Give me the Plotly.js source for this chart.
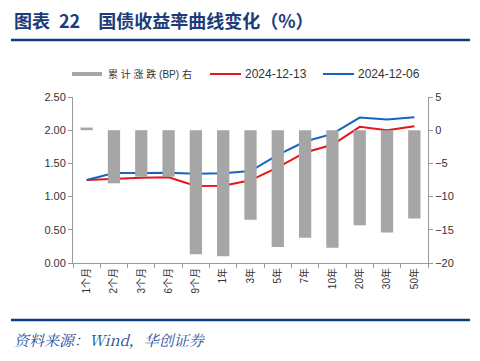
<!DOCTYPE html>
<html>
<head>
<meta charset="utf-8">
<script src="https://cdn.plot.ly/plotly-3.0.1.min.js"></script>
<style>
html,body{margin:0;padding:0;background:#fff;}
#chart{width:480px;height:361px;}
</style>
</head>
<body>
<div id="chart"></div>
<script>
const categories = ["1个月","2个月","3个月","6个月","9个月","1年","3年","5年","7年","10年","20年","30年","50年"];
const changeBP = [0.4, -8, -7, -7, -18.7, -19, -13.5, -17.6, -16.2, -17.7, -14.3, -15.4, -13.3];
const yield20241213 = [1.25, 1.27, 1.285, 1.29, 1.16, 1.165, 1.245, 1.44, 1.665, 1.78, 2.05, 2.00, 2.06];
const yield20241206 = [1.25, 1.355, 1.355, 1.36, 1.345, 1.35, 1.385, 1.63, 1.83, 1.945, 2.19, 2.16, 2.195];
const seriesNames = ["累计涨跌(BP)右", "2024-12-13", "2024-12-06"];
const legendLabels = ["累 计 涨 跌 (BP) 右", "2024-12-13", "2024-12-06"];

const W = 480, H = 361;
const mL = 73, mR = 52, mT = 97, mB = 98;
const pw = W - mL - mR, ph = H - mT - mB;
const px = x => (x - mL) / pw;
const py = y => (H - mB - y) / ph;

const fontMain = "Liberation Sans, Arial, Noto Sans CJK SC, sans-serif";
const colors = {bar: "#A6A6A6", red: "#E8141C", blue: "#1565C0"};

const traces = [
  {
    type: "bar", name: seriesNames[0], x: categories, y: changeBP, yaxis: "y2",
    marker: {color: colors.bar}, width: 0.45
  },
  {
    type: "scatter", mode: "lines", name: seriesNames[1], x: categories, y: yield20241213,
    line: {color: colors.red, width: 2}
  },
  {
    type: "scatter", mode: "lines", name: seriesNames[2], x: categories, y: yield20241206,
    line: {color: colors.blue, width: 2}
  }
];

const legY = 74;
const layout = {
  width: W, height: H,
  margin: {l: mL, r: mR, t: mT, b: mB, pad: 0},
  paper_bgcolor: "#fff", plot_bgcolor: "#fff",
  font: {family: fontMain, size: 10, color: "#333"},
  showlegend: false,
  xaxis: {
    type: "category", showline: true, linecolor: "#999", linewidth: 1,
    ticks: "outside", tickson: "boundaries", ticklen: 4, tickcolor: "#999",
    tickangle: -90, showgrid: false, zeroline: false,
    tickfont: {size: 10, color: "#333", family: fontMain}
  },
  yaxis: {
    range: [0, 2.5], dtick: 0.5, tickformat: ".2f",
    showline: true, linecolor: "#999", linewidth: 1,
    ticks: "outside", ticklen: 4, tickcolor: "#999",
    showgrid: false, zeroline: false,
    tickfont: {size: 11, color: "#333", family: fontMain}
  },
  yaxis2: {
    overlaying: "y", side: "right", range: [-20, 5], dtick: 5,
    showline: true, linecolor: "#999", linewidth: 1,
    ticks: "outside", ticklen: 4, tickcolor: "#999",
    showgrid: false, zeroline: false,
    tickfont: {size: 11, color: "#333", family: fontMain}
  },
  shapes: [
    {type: "line", xref: "paper", yref: "paper", x0: px(11), x1: px(470), y0: py(40), y1: py(40),
     line: {color: "#0E3F7E", width: 2.5}},
    {type: "line", xref: "paper", yref: "paper", x0: px(11), x1: px(470), y0: py(320), y1: py(320),
     line: {color: "#0E3F7E", width: 2.5}},
    // legend symbols
    {type: "rect", xref: "paper", yref: "paper", x0: px(72), x1: px(102), y0: py(legY - 2), y1: py(legY + 2),
     fillcolor: colors.bar, line: {width: 0}},
    {type: "line", xref: "paper", yref: "paper", x0: px(210), x1: px(241), y0: py(legY), y1: py(legY),
     line: {color: colors.red, width: 2}},
    {type: "line", xref: "paper", yref: "paper", x0: px(323), x1: px(354), y0: py(legY), y1: py(legY),
     line: {color: colors.blue, width: 2}}
  ],
  annotations: [
    {xref: "paper", yref: "paper", x: px(12), y: py(20), xanchor: "left", yanchor: "middle",
     showarrow: false, text: "<b>图表\u200222　国债收益率曲线变化（%）</b>",
     font: {family: "Noto Sans CJK SC, sans-serif", size: 18, color: "#1B3C78"}},
    {xref: "paper", yref: "paper", x: px(12), y: py(339), xanchor: "left", yanchor: "middle",
     showarrow: false, text: "<i>资料来源：Wind，华创证券</i>",
     font: {family: "Noto Serif CJK SC, Liberation Serif, Noto Sans CJK SC, serif", size: 15, color: "#1F4E9A"}},
    {xref: "paper", yref: "paper", x: px(106), y: py(legY), xanchor: "left", yanchor: "middle",
     showarrow: false, text: legendLabels[0], font: {size: 10, color: "#333", family: fontMain}},
    {xref: "paper", yref: "paper", x: px(243), y: py(legY), xanchor: "left", yanchor: "middle",
     showarrow: false, text: legendLabels[1], font: {size: 12, color: "#333", family: fontMain}},
    {xref: "paper", yref: "paper", x: px(356), y: py(legY), xanchor: "left", yanchor: "middle",
     showarrow: false, text: legendLabels[2], font: {size: 12, color: "#333", family: fontMain}}
  ]
};

Plotly.newPlot("chart", traces, layout, {displayModeBar: false, staticPlot: true});
</script>
</body>
</html>
